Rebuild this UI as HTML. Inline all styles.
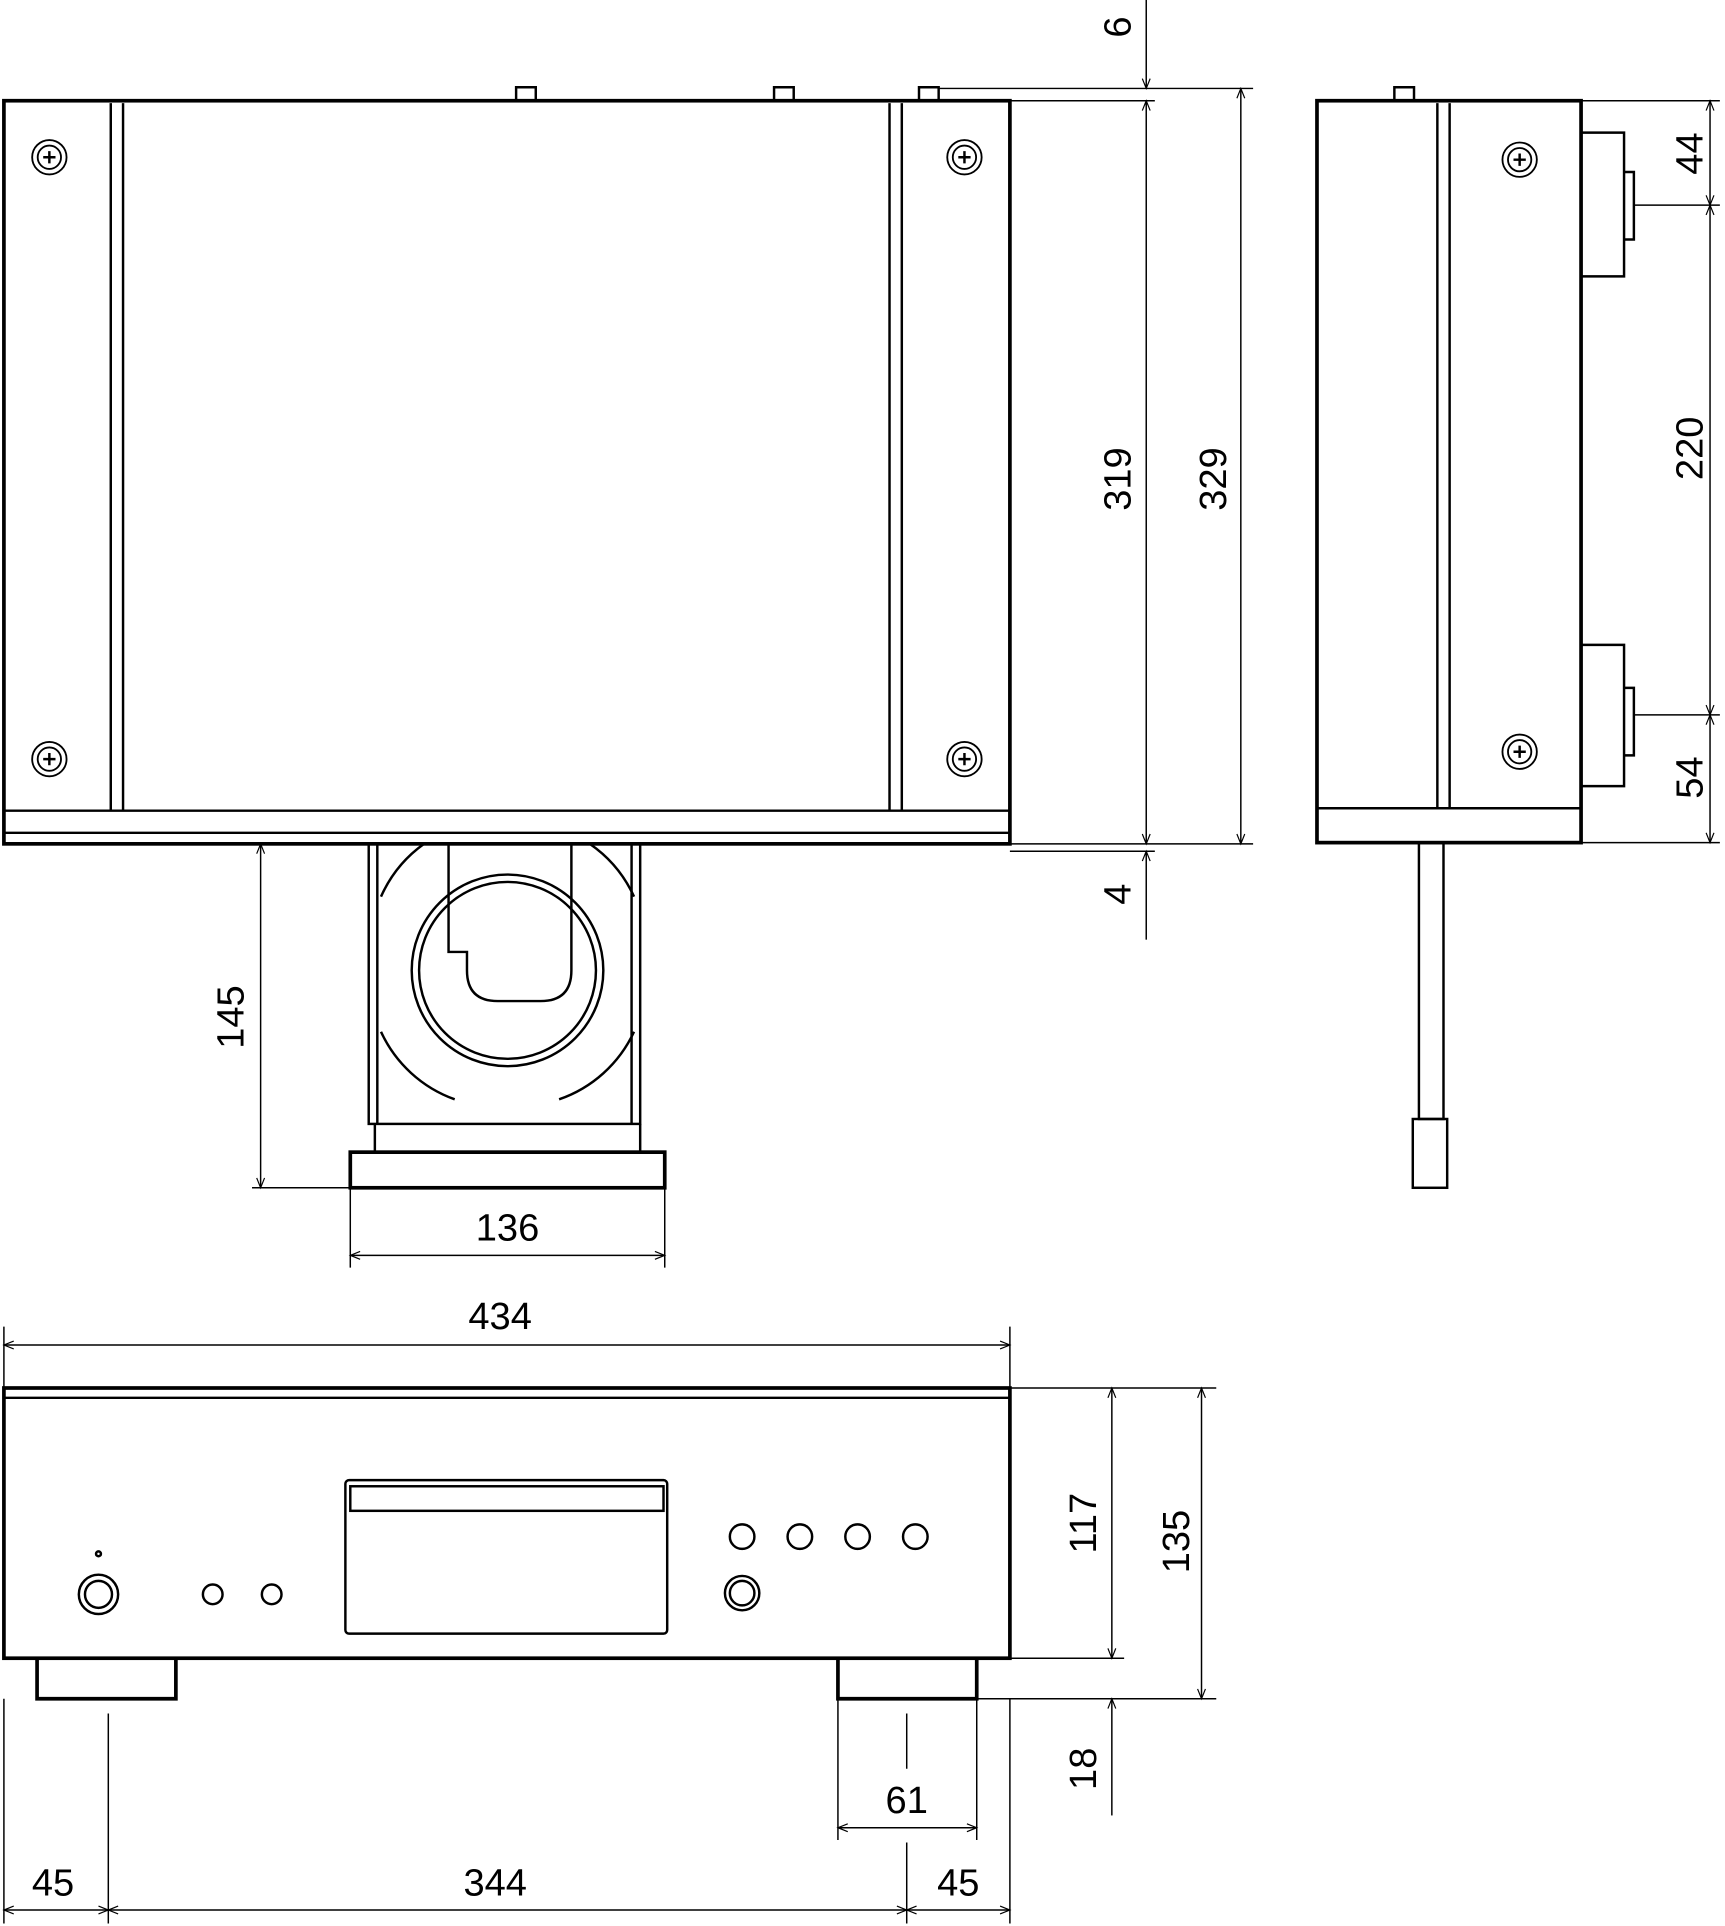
<!DOCTYPE html>
<html><head><meta charset="utf-8"><style>
html,body{margin:0;padding:0;background:#fff}
svg{display:block}
text{font-family:"Liberation Sans",sans-serif;font-size:31px;fill:#000}
</style></head><body>
<svg width="1725" height="1926" viewBox="0 0 1404 1568" xmlns="http://www.w3.org/2000/svg">
<defs>
<marker id="a" viewBox="0 0 10 10" refX="10" refY="5" markerWidth="12" markerHeight="8" orient="auto-start-reverse" markerUnits="userSpaceOnUse"><path d="M0,1 L10,5 L0,9" fill="none" stroke="#000" stroke-width="1.2"/></marker>
<g id="scr"><circle r="14" fill="none" stroke="#000" stroke-width="1.5"/><circle r="9.5" fill="none" stroke="#000" stroke-width="1.5"/><path d="M-5,0H5M0,-5V5" stroke="#000" stroke-width="2"/></g>
</defs>
<g fill="none" stroke="#000" stroke-width="2">
<!-- top view -->
<rect x="3" y="82" width="819" height="605" stroke-width="3"/>
<line x1="90" y1="84" x2="90" y2="660"/><line x1="100" y1="84" x2="100" y2="660"/>
<line x1="724" y1="84" x2="724" y2="660"/><line x1="734" y1="84" x2="734" y2="660"/>
<line x1="3" y1="660" x2="822" y2="660"/><line x1="3" y1="678" x2="822" y2="678"/>
<path d="M420,82V71H436V82M630,82V71H646V82M748,82V71H764V82"/>
<!-- tray -->
<rect x="300" y="687" width="221" height="228"/>
<line x1="307" y1="687" x2="307" y2="915"/><line x1="514" y1="687" x2="514" y2="915"/>
<rect x="285" y="938" width="256" height="29" stroke-width="3"/>
<path d="M305,915V938M521,915V938"/>
<circle cx="413" cy="790" r="78"/><circle cx="413" cy="790" r="72"/>
<path d="M365,687V775H380V790Q380,815 405,815H440Q465,815 465,790V687"/>
<path d="M310,730A105,105 0 0 1 345,687M516,730A105,105 0 0 0 480,687M310,840A105,105 0 0 0 370,895M516,840A105,105 0 0 1 455,895"/>
<!-- side view -->
<rect x="1072" y="82" width="215" height="604" stroke-width="3"/>
<line x1="1170" y1="84" x2="1170" y2="658"/><line x1="1180" y1="84" x2="1180" y2="658"/>
<line x1="1072" y1="658" x2="1287" y2="658"/>
<path d="M1135,82V71H1151V82"/>
<path d="M1287,108H1322V225H1287M1322,140H1330V195H1322"/>
<path d="M1287,525H1322V640H1287M1322,560H1330V615H1322"/>
<rect x="1155" y="686" width="20" height="225"/>
<rect x="1150" y="911" width="28" height="56"/>
<!-- front view -->
<rect x="3" y="1130" width="819" height="220" stroke-width="3"/>
<line x1="3" y1="1138" x2="822" y2="1138"/>
<path d="M30,1350V1383H143V1350M682,1350V1383H795V1350" stroke-width="3"/>
<rect x="281" y="1205" width="262" height="125" rx="3"/>
<rect x="285" y="1210" width="255" height="20"/>
<circle cx="604" cy="1251" r="10"/><circle cx="651" cy="1251" r="10"/><circle cx="698" cy="1251" r="10"/><circle cx="745" cy="1251" r="10"/>
<circle cx="604" cy="1297" r="14"/><circle cx="604" cy="1297" r="10"/>
<circle cx="80" cy="1298" r="16"/><circle cx="80" cy="1298" r="11"/>
<circle cx="173" cy="1298" r="8"/><circle cx="221" cy="1298" r="8"/><circle cx="80" cy="1265" r="2"/>
</g>
<g fill="#fff">
<use href="#scr" x="40" y="128"/><use href="#scr" x="785" y="128"/><use href="#scr" x="40" y="618"/><use href="#scr" x="785" y="618"/>
<use href="#scr" x="1237" y="130"/><use href="#scr" x="1237" y="612"/>
</g>
<!-- dimension lines -->
<g stroke="#000" stroke-width="1.2" fill="none">
<path d="M764,72H1020M822,82H940M822,693H940M822,687H1020"/>
<line x1="933" y1="0" x2="933" y2="72" marker-end="url(#a)"/>
<line x1="933" y1="82" x2="933" y2="687" marker-start="url(#a)" marker-end="url(#a)"/>
<line x1="1010" y1="72" x2="1010" y2="687" marker-start="url(#a)" marker-end="url(#a)"/>
<line x1="933" y1="765" x2="933" y2="693" marker-end="url(#a)"/>
<path d="M205,967H285"/>
<line x1="212" y1="687" x2="212" y2="967" marker-start="url(#a)" marker-end="url(#a)"/>
<path d="M285,967V1032M541,967V1032"/>
<line x1="285" y1="1022" x2="541" y2="1022" marker-start="url(#a)" marker-end="url(#a)"/>
<path d="M1287,82H1400M1330,167H1400M1330,582H1400M1287,686H1400"/>
<line x1="1392" y1="82" x2="1392" y2="167" marker-start="url(#a)" marker-end="url(#a)"/>
<line x1="1392" y1="167" x2="1392" y2="582" marker-start="url(#a)" marker-end="url(#a)"/>
<line x1="1392" y1="582" x2="1392" y2="686" marker-start="url(#a)" marker-end="url(#a)"/>
<path d="M3,1080V1130M822,1080V1130"/>
<line x1="3" y1="1095" x2="822" y2="1095" marker-start="url(#a)" marker-end="url(#a)"/>
<path d="M822,1130H990M822,1350H915M795,1383H990"/>
<line x1="905" y1="1130" x2="905" y2="1350" marker-start="url(#a)" marker-end="url(#a)"/>
<line x1="978" y1="1130" x2="978" y2="1383" marker-start="url(#a)" marker-end="url(#a)"/>
<line x1="905" y1="1478" x2="905" y2="1383" marker-end="url(#a)"/>
<path d="M682,1383V1498M795,1383V1498M738,1395V1440"/>
<line x1="682" y1="1488" x2="795" y2="1488" marker-start="url(#a)" marker-end="url(#a)"/>
<path d="M3,1383V1566M88,1395V1566M738,1500V1566M822,1383V1566"/>
<line x1="3" y1="1555" x2="88" y2="1555" marker-start="url(#a)" marker-end="url(#a)"/>
<line x1="88" y1="1555" x2="738" y2="1555" marker-start="url(#a)" marker-end="url(#a)"/>
<line x1="738" y1="1555" x2="822" y2="1555" marker-start="url(#a)" marker-end="url(#a)"/>
</g>
<g text-anchor="middle">
<text transform="translate(920,22) rotate(-90)">6</text>
<text transform="translate(920,390) rotate(-90)">319</text>
<text transform="translate(998,390) rotate(-90)">329</text>
<text transform="translate(920,728) rotate(-90)">4</text>
<text transform="translate(198,828) rotate(-90)">145</text>
<text x="413" y="1010">136</text>
<text transform="translate(1386,125) rotate(-90)">44</text>
<text transform="translate(1386,365) rotate(-90)">220</text>
<text transform="translate(1386,633) rotate(-90)">54</text>
<text x="407" y="1082">434</text>
<text transform="translate(892,1240) rotate(-90)">117</text>
<text transform="translate(968,1255) rotate(-90)">135</text>
<text transform="translate(892,1440) rotate(-90)">18</text>
<text x="738" y="1476">61</text>
<text x="43" y="1543">45</text>
<text x="403" y="1543">344</text>
<text x="780" y="1543">45</text>
</g>
</svg>
</body></html>
